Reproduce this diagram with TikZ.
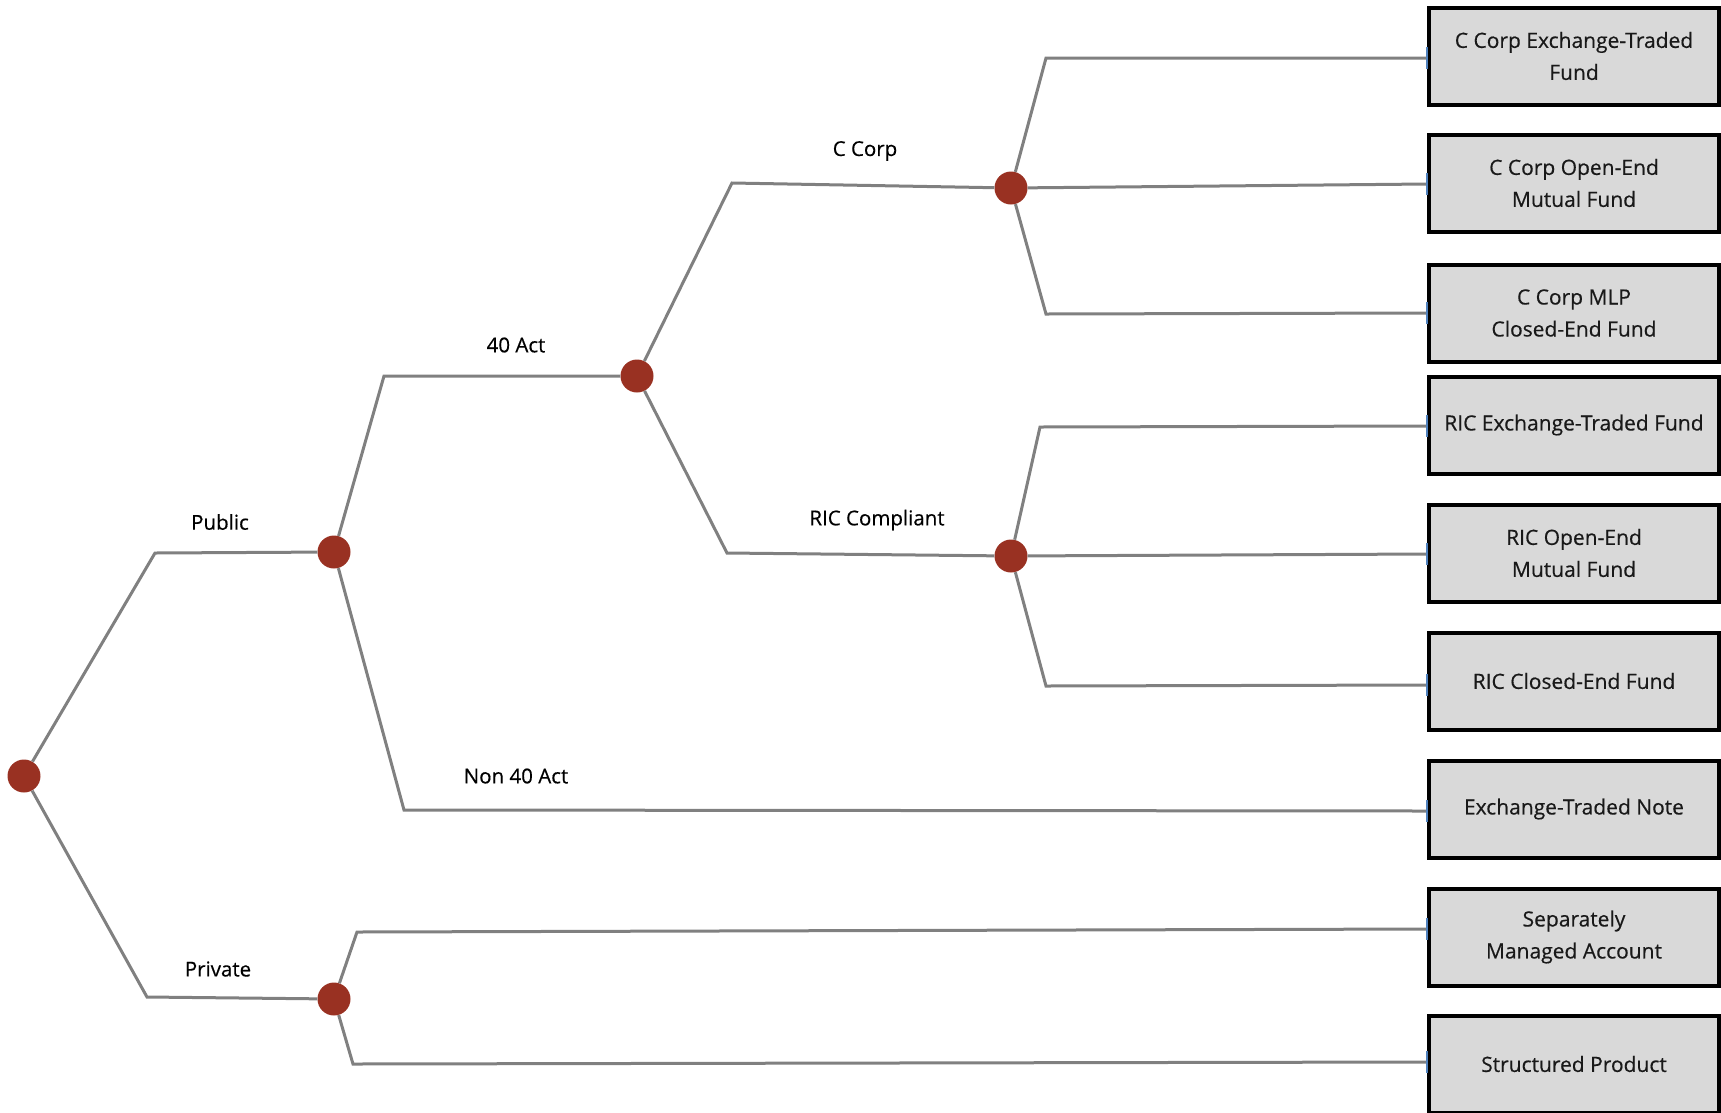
\documentclass[tikz,border=0pt]{standalone}
\usepackage{fontspec}
\setmainfont{Open Sans}[FakeBold=0.4]
\definecolor{linegray}{HTML}{808080}
\definecolor{dotred}{HTML}{993122}
\definecolor{boxfill}{HTML}{D9D9D9}
\definecolor{tickblue}{HTML}{4F81BD}
\begin{document}
\begin{tikzpicture}[x=1pt,y=-1pt,
  conn/.style={draw=linegray,line width=3pt},
  dot/.style={circle,fill=dotred,minimum size=33pt,inner sep=0pt},
  leaf/.style={draw=black,fill=boxfill,line width=4pt,minimum width=290pt,minimum height=97pt,
    inner sep=0pt,align=center,font=\fontsize{21}{32}\selectfont,text=black!90},
  lbl/.style={font=\fontsize{20.5}{24}\selectfont,text=black,inner sep=0pt},
  tick/.style={draw=tickblue,line width=2.5pt}]
\useasboundingbox (0,0) rectangle (1721,1112);
% junction dots
\node[dot] (root) at (24,776) {};
\node[dot] (pub) at (334,552) {};
\node[dot] (priv) at (334,999) {};
\node[dot] (act) at (637,376) {};
\node[dot] (cc) at (1011,188) {};
\node[dot] (ric) at (1011,556) {};
% leaves
\node[leaf] (b1) at (1574,56) {C Corp Exchange-Traded\\Fund};
\node[leaf] (b2) at (1574,183) {C Corp Open-End\\Mutual Fund};
\node[leaf] (b3) at (1574,313) {C Corp MLP\\Closed-End Fund};
\node[leaf] (b4) at (1574,425) {RIC Exchange-Traded Fund};
\node[leaf] (b5) at (1574,553) {RIC Open-End\\Mutual Fund};
\node[leaf] (b6) at (1574,681) {RIC Closed-End Fund};
\node[leaf] (b7) at (1574,809) {Exchange-Traded Note};
\node[leaf] (b8) at (1574,937) {Separately\\Managed Account};
\node[leaf] (b9) at (1574,1064) {Structured Product};
% elbows
\coordinate (e1) at (155,553);
\coordinate (e2) at (147,997);
\coordinate (e3) at (384,376);
\coordinate (e4) at (404,810);
\coordinate (e5) at (732,183);
\coordinate (e6) at (727,553);
\coordinate (e7) at (1046,58);
\coordinate (e8) at (1046,314);
\coordinate (e9) at (1040,427);
\coordinate (e10) at (1046,686);
\coordinate (e11) at (357,932);
\coordinate (e12) at (353,1064);
% end points on boxes
\coordinate (t1) at ([yshift=-2pt]b1.west);
\coordinate (t2) at ([yshift=-1pt]b2.west);
\coordinate (t3) at ([yshift=0pt]b3.west);
\coordinate (t4) at ([yshift=-1pt]b4.west);
\coordinate (t5) at ([yshift=-1pt]b5.west);
\coordinate (t6) at ([yshift=-4pt]b6.west);
\coordinate (t7) at ([yshift=-2pt]b7.west);
\coordinate (t8) at ([yshift=8pt]b8.west);
\coordinate (t9) at ([yshift=2pt]b9.west);
\draw[conn] (root) -- (e1) -- (pub);
\draw[conn] (root) -- (e2) -- (priv);
\draw[conn] (pub) -- (e3) -- (act);
\draw[conn] (pub) -- (e4) -- (t7);
\draw[conn] (act) -- (e5) -- (cc);
\draw[conn] (act) -- (e6) -- (ric);
\draw[conn] (cc) -- (e7) -- (t1);
\draw[conn] (cc) -- (t2);
\draw[conn] (cc) -- (e8) -- (t3);
\draw[conn] (ric) -- (e9) -- (t4);
\draw[conn] (ric) -- (t5);
\draw[conn] (ric) -- (e10) -- (t6);
\draw[conn] (priv) -- (e11) -- (t8);
\draw[conn] (priv) -- (e12) -- (t9);
% blue connection ticks
\foreach \t in {t1,t2,t3,t4,t5,t6,t7,t8,t9}
  \draw[tick] ([yshift=11pt]\t) -- ([yshift=-11pt]\t);
% branch labels
\node[lbl] (lpub) at (220,522) {Public};
\node[lbl] (lpriv) at (218,969) {Private};
\node[lbl] (lact) at (516,345) {40 Act};
\node[lbl] (lnon) at (516,776) {Non 40 Act};
\node[lbl] (lcc) at (865,151) {C Corp};
\node[lbl] (lric) at (877,520) {RIC Compliant};
\end{tikzpicture}
\end{document}
